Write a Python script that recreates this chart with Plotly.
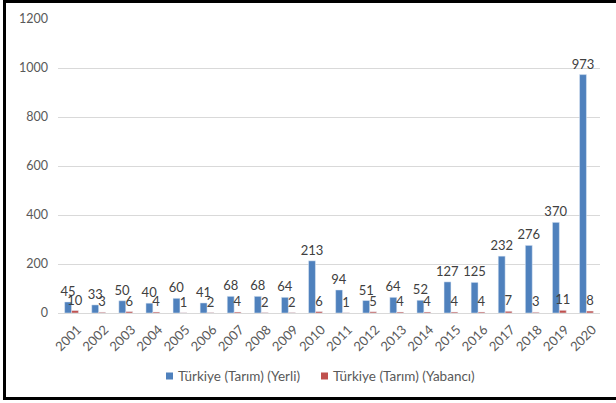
import plotly.graph_objects as go

years = [str(y) for y in range(2001, 2021)]
yerli = [45, 33, 50, 40, 60, 41, 68, 68, 64, 213, 94, 51, 64, 52, 127, 125, 232, 276, 370, 973]
yabanci = [10, 3, 6, 4, 1, 2, 4, 2, 2, 6, 1, 5, 4, 4, 4, 4, 7, 3, 11, 8]
y_ticks = [0, 200, 400, 600, 800, 1000, 1200]
series_names = ["Türkiye (Tarım) (Yerli)", "Türkiye (Tarım) (Yabancı)"]
series_colors = ["#4F81BD", "#C0504D"]

FONT = "Lato"
fig = go.Figure()
for vals, name, col in zip([yerli, yabanci], series_names, series_colors):
    fig.add_trace(go.Bar(
        x=years, y=vals, name=name,
        marker_color=col, text=[str(v) for v in vals],
        textposition="outside", textangle=0, constraintext="none",
        textfont=dict(size=13, color="#404040", family=FONT),
        cliponaxis=False, showlegend=False,
    ))

L, R, T, B = 58, 16, 19, 90
W, H = 616, 403
pw, ph = W - L - R, H - T - B

def px_x(p):
    return (p - L) / pw

def px_y(p):
    return (H - B - p) / ph

shapes = [dict(type="rect", xref="paper", yref="paper",
               x0=px_x(4.5), x1=px_x(630), y0=px_y(398.5), y1=px_y(1.5),
               line=dict(color="black", width=3), fillcolor="rgba(0,0,0,0)", layer="above")]
annotations = []
legend_x = [166, 321]
for lx, name, col in zip(legend_x, series_names, series_colors):
    shapes.append(dict(type="rect", xref="paper", yref="paper",
                       x0=px_x(lx), x1=px_x(lx + 7), y0=px_y(379.5), y1=px_y(372.5),
                       line=dict(width=0), fillcolor=col))
    annotations.append(dict(xref="paper", yref="paper", x=px_x(lx + 10), y=px_y(376),
                            xanchor="left", yanchor="middle", text=name, showarrow=False,
                            font=dict(size=13.5, color="#595959", family=FONT)))

fig.update_layout(
    width=W, height=H,
    margin=dict(l=L, r=R, t=T, b=B),
    paper_bgcolor="white", plot_bgcolor="white",
    barmode="group", bargap=0.49, bargroupgap=0.0,
    font=dict(family=FONT, color="#595959", size=12),
    showlegend=False,
    xaxis=dict(type="category", tickangle=-45, tickfont=dict(size=13, color="#595959"),
               showline=True, linecolor="#D9D9D9", linewidth=1, ticks="",
               showgrid=False, ticklabelshift=6, ticklabelstandoff=3),
    yaxis=dict(range=[0, 1200], tickvals=y_ticks, showgrid=True, gridcolor="#D9D9D9",
               gridwidth=1, zeroline=False, showline=False, ticks="",
               tickfont=dict(size=12.5, color="#595959"), ticklabelstandoff=9),
    shapes=shapes,
    annotations=annotations,
)

fig.write_html("out.html", config={"displayModeBar": False},
               post_script="document.body.style.margin='0';document.body.style.overflow='hidden';")
